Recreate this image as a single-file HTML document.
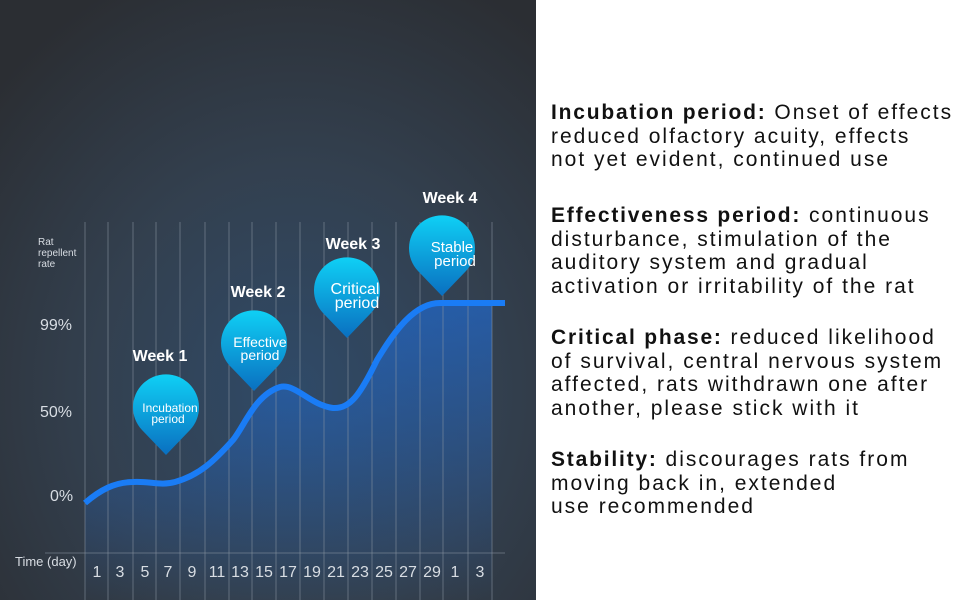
<!DOCTYPE html>
<html><head><meta charset="utf-8"><style>
body{margin:0;width:970px;height:600px;overflow:hidden;background:#fff;font-family:"Liberation Sans",Arial,sans-serif}
#l{position:absolute;left:0;top:0;width:536px;height:600px}
.t{position:absolute;left:551px;font-size:21px;line-height:23.5px;letter-spacing:2px;color:#111;white-space:nowrap}
.t b{letter-spacing:1.8px}
</style></head><body>
<svg id="l" width="536" height="600" viewBox="0 0 536 600">
<defs>
<radialGradient id="bg" cx="0.55" cy="0.65" r="0.75">
<stop offset="0" stop-color="#2f4a68"/><stop offset="0.5" stop-color="#33404f"/><stop offset="1" stop-color="#2b2e33"/>
</radialGradient>
<linearGradient id="fill" x1="0" y1="0" x2="0" y2="1">
<stop offset="0" stop-color="#1e6fe0" stop-opacity="0.75"/><stop offset="1" stop-color="#1e6fe0" stop-opacity="0"/>
</linearGradient>
<linearGradient id="pin" x1="0" y1="0" x2="0" y2="1">
<stop offset="0" stop-color="#0fd0f5"/><stop offset="1" stop-color="#0a6fc0"/>
</linearGradient>
<g id="p"><path d="M0,47 L-24,22 A33,33 0 1 1 24,22 Z" fill="url(#pin)"/></g>
</defs>
<rect width="536" height="600" fill="url(#bg)"/>
<path d="M85,503 C100,490 115,482 133,482 C150,481 160,486 175,482 C200,475 215,460 233,440 C245,425 255,395 280,387 C295,383 310,405 333,408 C350,409 360,395 377,360 C395,330 415,303 440,303 L492,303 L492,600 L85,600 Z" fill="url(#fill)" opacity="0.8"/>
<g stroke="#8a95a3" stroke-opacity="0.55" stroke-width="1">
<line x1="85" y1="222" x2="85" y2="600"/><line x1="108" y1="222" x2="108" y2="600"/><line x1="133" y1="222" x2="133" y2="600"/><line x1="156" y1="222" x2="156" y2="600"/><line x1="180" y1="222" x2="180" y2="600"/><line x1="205" y1="222" x2="205" y2="600"/><line x1="229" y1="222" x2="229" y2="600"/><line x1="252" y1="222" x2="252" y2="600"/><line x1="276" y1="222" x2="276" y2="600"/><line x1="300" y1="222" x2="300" y2="600"/><line x1="324" y1="222" x2="324" y2="600"/><line x1="348" y1="222" x2="348" y2="600"/><line x1="372" y1="222" x2="372" y2="600"/><line x1="396" y1="222" x2="396" y2="600"/><line x1="420" y1="222" x2="420" y2="600"/><line x1="443" y1="222" x2="443" y2="600"/><line x1="468" y1="222" x2="468" y2="600"/><line x1="492" y1="222" x2="492" y2="600"/>
<line x1="45" y1="553" x2="505" y2="553"/>
</g>
<path d="M85,503 C100,490 115,482 133,482 C150,481 160,486 175,482 C200,475 215,460 233,440 C245,425 255,395 280,387 C295,383 310,405 333,408 C350,409 360,395 377,360 C395,330 415,303 440,303 L505,303" fill="none" stroke="#1a7cf5" stroke-width="6"/>
<g fill="#d8dde3" font-size="16">
<text x="40" y="330">99%</text><text x="40" y="417">50%</text><text x="50" y="501">0%</text>
</g>
<g fill="#d8dde3" font-size="10"><text x="38" y="245">Rat</text><text x="38" y="256">repellent</text><text x="38" y="267">rate</text></g>
<text x="15" y="566" fill="#d8dde3" font-size="13">Time (day)</text>
<g fill="#d8dde3" font-size="16" text-anchor="middle">
<text x="97" y="577">1</text><text x="120" y="577">3</text><text x="145" y="577">5</text><text x="168" y="577">7</text><text x="192" y="577">9</text><text x="217" y="577">11</text><text x="240" y="577">13</text><text x="264" y="577">15</text><text x="288" y="577">17</text><text x="312" y="577">19</text><text x="336" y="577">21</text><text x="360" y="577">23</text><text x="384" y="577">25</text><text x="408" y="577">27</text><text x="432" y="577">29</text><text x="455" y="577">1</text><text x="480" y="577">3</text>
</g>
<use href="#p" x="166" y="408"/><use href="#p" x="254" y="344"/><use href="#p" x="347" y="291"/><use href="#p" x="442" y="249"/>
<g fill="#fff" text-anchor="middle">
<g font-size="12"><text x="170" y="412">Incubation</text><text x="168" y="423">period</text></g>
<g font-size="14"><text x="260" y="347">Effective</text><text x="260" y="360">period</text></g>
<g font-size="16"><text x="355" y="294">Critical</text><text x="357" y="308">period</text></g>
<g font-size="15"><text x="452" y="252">Stable</text><text x="455" y="266">period</text></g>
<g font-size="16" font-weight="bold"><text x="160" y="361">Week 1</text><text x="258" y="297">Week 2</text><text x="353" y="249">Week 3</text><text x="450" y="203">Week 4</text></g>
</g>
</svg>
<div class="t" style="top:101px"><b>Incubation period:</b> Onset of effects<br>reduced olfactory acuity, effects<br>not yet evident, continued use</div>
<div class="t" style="top:204px"><b>Effectiveness period:</b> continuous<br>disturbance, stimulation of the<br>auditory system and gradual<br>activation or irritability of the rat</div>
<div class="t" style="top:326px"><b>Critical phase:</b> reduced likelihood<br>of survival, central nervous system<br>affected, rats withdrawn one after<br>another, please stick with it</div>
<div class="t" style="top:448px"><b>Stability:</b> discourages rats from<br>moving back in, extended<br>use recommended</div>
</body></html>
